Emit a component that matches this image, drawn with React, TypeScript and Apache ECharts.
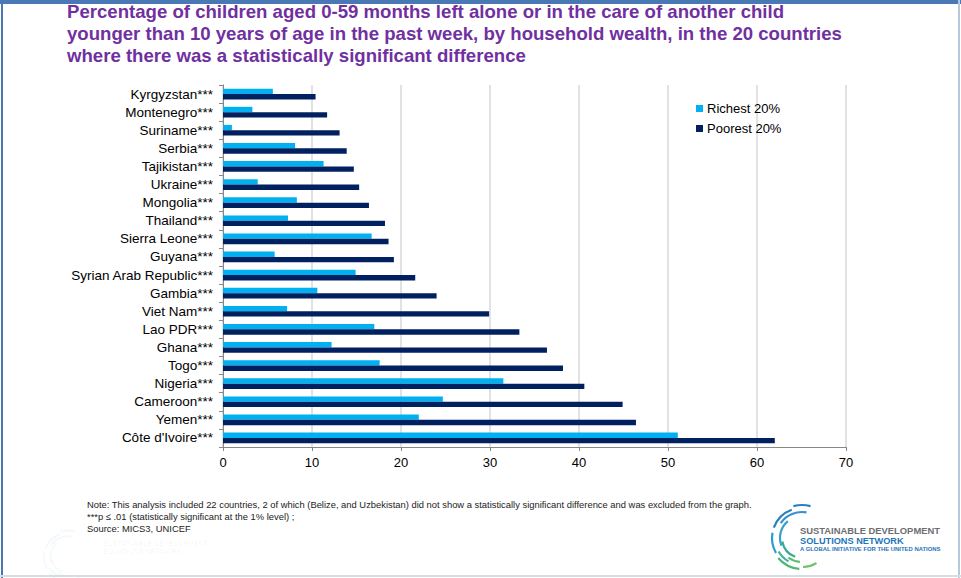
import React, { useEffect, useRef } from "react";
import * as echarts from "echarts";

const countries = [
  "Kyrgyzstan***", "Montenegro***", "Suriname***", "Serbia***", "Tajikistan***",
  "Ukraine***", "Mongolia***", "Thailand***", "Sierra Leone***", "Guyana***",
  "Syrian Arab Republic***", "Gambia***", "Viet Nam***", "Lao PDR***", "Ghana***",
  "Togo***", "Nigeria***", "Cameroon***", "Yemen***", "Côte d'Ivoire***",
];
const richest = [5.6, 3.3, 1.0, 8.1, 11.3, 3.9, 8.3, 7.3, 16.7, 5.8, 14.9, 10.6, 7.2, 17.0, 12.2, 17.6, 31.5, 24.7, 22.0, 51.1];
const poorest = [10.4, 11.7, 13.1, 13.9, 14.7, 15.3, 16.4, 18.2, 18.6, 19.2, 21.6, 24.0, 29.9, 33.3, 36.4, 38.2, 40.6, 44.9, 46.4, 62.0];
const seriesNames = ["Richest 20%", "Poorest 20%"];
const xTicks = { min: 0, max: 70, interval: 10 };

const titleLines = [
  "Percentage of children aged 0-59 months left alone or in the care of another child",
  "younger than 10 years of age in the past week, by household wealth, in the 20 countries",
  "where there was a statistically significant difference",
];
const noteLines = [
  "Note: This analysis included 22 countries, 2 of which (Belize, and Uzbekistan) did not show a statistically significant difference and was excluded from the graph.",
  "***p \u2264 .01 (statistically significant at the 1% level) ;",
  "Source: MICS3, UNICEF",
];

function logoArcs(cx: number, cy: number, s: number, opacity: number) {
  const arcs = [
    { r: 30, a0: 200, a1: 250, c: "#2a7fc0" },
    { r: 26, a0: 215, a1: 280, c: "#3a8fd0" },
    { r: 30, a0: 150, a1: 190, c: "#2c9bd0" },
    { r: 22, a0: 160, a1: 230, c: "#3aa0c8" },
    { r: 27, a0: 120, a1: 150, c: "#45b0a0" },
    { r: 31, a0: 95, a1: 140, c: "#4cb878" },
    { r: 24, a0: 95, a1: 125, c: "#5bc070" },
    { r: 29, a0: 60, a1: 88, c: "#6cc46a" },
    { r: 20, a0: 110, a1: 170, c: "#3aaa98" },
    { r: 33, a0: 255, a1: 285, c: "#2a7fc0" },
  ];
  return arcs.map((a) => ({
    type: "arc",
    silent: true,
    shape: {
      cx, cy, r: a.r * s,
      startAngle: (a.a0 * Math.PI) / 180,
      endAngle: (a.a1 * Math.PI) / 180,
    },
    style: { stroke: a.c, lineWidth: 2.2 * s, fill: "none", opacity },
  }));
}

export default function App() {
  const ref = useRef<HTMLDivElement>(null);
  useEffect(() => {
    document.body.style.margin = "0";
    const chart = echarts.init(ref.current!, null, { renderer: "svg" });
    const font = "Liberation Sans, Arial, sans-serif";
    chart.setOption({
      animation: false,
      backgroundColor: "#ffffff",
      textStyle: { fontFamily: font },
      grid: { left: 223, right: 115, top: 85, bottom: 131, containLabel: false },
      legend: {
        orient: "vertical",
        left: 691,
        top: 97,
        itemWidth: 7,
        itemHeight: 7,
        itemGap: 7,
        icon: "rect",
        textStyle: { fontSize: 13, color: "#000", fontFamily: font, padding: [0, 0, 0, -1] },
        data: seriesNames,
      },
      xAxis: {
        type: "value",
        min: xTicks.min,
        max: xTicks.max,
        interval: xTicks.interval,
        axisLine: { show: true, lineStyle: { color: "#888", width: 1 } },
        axisTick: { show: true, length: 4, lineStyle: { color: "#888" } },
        axisLabel: { fontSize: 13, color: "#000", margin: 9, fontFamily: font },
        splitLine: { show: true, lineStyle: { color: "#d9d9d9", width: 1.5 } },
      },
      yAxis: {
        type: "category",
        inverse: true,
        data: countries,
        axisLine: { show: true, lineStyle: { color: "#888", width: 1 } },
        axisTick: { show: true, length: 4, interval: 0, lineStyle: { color: "#888" } },
        axisLabel: { fontSize: 13.5, color: "#000", margin: 10, interval: 0, fontFamily: font },
        splitLine: { show: false },
      },
      series: [
        {
          name: seriesNames[0],
          type: "bar",
          data: richest,
          barGap: "0%",
          barCategoryGap: "41%",
          itemStyle: { color: "#00B0F0" },
        },
        {
          name: seriesNames[1],
          type: "bar",
          data: poorest,
          barGap: "0%",
          barCategoryGap: "41%",
          itemStyle: { color: "#002060" },
        },
      ],
      graphic: [
        { type: "rect", silent: true, shape: { x: 0, y: 0, width: 961, height: 4 }, style: { fill: "#4a78b5" } },
        { type: "rect", silent: true, shape: { x: 1, y: 0, width: 2, height: 578 }, style: { fill: "#4a78b5" } },
        { type: "rect", silent: true, shape: { x: 958, y: 0, width: 2, height: 578 }, style: { fill: "#b8c8dc" } },
        { type: "rect", silent: true, shape: { x: 0, y: 575, width: 961, height: 2 }, style: { fill: "#d8dde4" } },
        ...titleLines.map((t, i) => ({
          type: "text",
          silent: true,
          left: 67,
          top: 2 + i * 22,
          style: { text: t, fontSize: 18.6, fontWeight: "bold", fill: "#7030A0", fontFamily: font },
        })),
        ...noteLines.map((t, i) => ({
          type: "text",
          silent: true,
          left: 87,
          top: 500 + i * 12,
          style: { text: t, fontSize: 9.4, fill: "#222", fontFamily: font },
        })),
        ...logoArcs(802, 538, 1, 1),
        { type: "text", silent: true, left: 800, top: 526, style: { text: "SUSTAINABLE DEVELOPMENT", fontSize: 9.4, fontWeight: "bold", fill: "#6d6e71", fontFamily: font } },
        { type: "text", silent: true, left: 800, top: 536, style: { text: "SOLUTIONS NETWORK", fontSize: 9.2, fontWeight: "bold", fill: "#1f74b8", fontFamily: font } },
        { type: "text", silent: true, left: 800, top: 546, style: { text: "A GLOBAL INITIATIVE FOR THE UNITED NATIONS", fontSize: 5.9, fontWeight: "bold", fill: "#1f74b8", fontFamily: font } },
        ...logoArcs(68, 557, 0.8, 0.06),
        { type: "text", silent: true, left: 103, top: 540, style: { text: "SUSTAINABLE DEVELOPMENT", fontSize: 7, fontWeight: "bold", fill: "#000", opacity: 0.04, fontFamily: font } },
        { type: "text", silent: true, left: 103, top: 548, style: { text: "SOLUTIONS NETWORK", fontSize: 7, fontWeight: "bold", fill: "#000", opacity: 0.04, fontFamily: font } },
      ],
    });
    return () => chart.dispose();
  }, []);
  return <div ref={ref} style={{ width: 961, height: 578 }} />;
}
